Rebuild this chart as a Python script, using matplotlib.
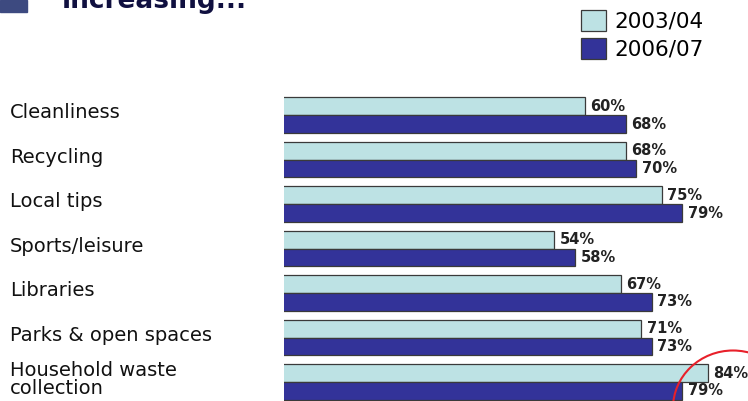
import numpy as np
import matplotlib
matplotlib.use("Agg")
import matplotlib.pyplot as plt
from matplotlib import patches, transforms

categories = ["Cleanliness", "Recycling", "Local tips", "Sports/leisure",
              "Libraries", "Parks & open spaces", "Household waste\ncollection"]
series_names = ["2003/04", "2006/07"]
vals_0304 = [60, 68, 75, 54, 67, 71, 84]
vals_0607 = [68, 70, 79, 58, 73, 73, 79]

light = "#BDE2E4"
dark = "#333399"
edge = "#3a3a3a"

plt.rcParams['font.family'] = ['DejaVu Sans']

W, H = 748, 401
fig = plt.figure(figsize=(W / 100, H / 100), dpi=100)
ax = fig.add_axes([284 / W, 0, 1 - 284 / W, 321 / H])

y = np.arange(len(categories))
h = 0.404
ax.barh(y - h / 2, vals_0304, height=h, color=light, edgecolor=edge, linewidth=0.9, label=series_names[0])
ax.barh(y + h / 2, vals_0607, height=h, color=dark, edgecolor=edge, linewidth=0.9, label=series_names[1])

ax.set_xlim(1.27, 91.8)
ax.set_ylim(len(categories) - 1 + 0.427, -0.787)
ax.axis('off')

# value labels
for i in range(len(categories)):
    ax.annotate(f"{vals_0304[i]}%", (vals_0304[i], y[i] - h / 2), xytext=(4, 0),
                textcoords='offset points', va='center', ha='left',
                fontsize=10.5, fontweight='bold', color='#222222')
    ax.annotate(f"{vals_0607[i]}%", (vals_0607[i], y[i] + h / 2), xytext=(4, 0),
                textcoords='offset points', va='center', ha='left',
                fontsize=10.5, fontweight='bold', color='#222222')

# category labels on the left
trans = transforms.blended_transform_factory(fig.transFigure, ax.transData)
for i, c in enumerate(categories):
    ax.text(10 / W, y[i] - 0.05, c, transform=trans, ha='left', va='center',
            fontsize=14, color='#111111', linespacing=0.95, clip_on=False)

# legend
leg = fig.legend(loc='upper left', bbox_to_anchor=(581 / W, 1 - 10 / H),
                 frameon=False, fontsize=15.5, handlelength=1.18, handleheight=1.09,
                 handletextpad=0.36, labelspacing=0.3, borderpad=0, borderaxespad=0)

# cut-off title and bullet at the top
fig.text(62 / W, 1 - 8 / H, "increasing...", fontsize=19, fontweight='bold',
         color='#101040', va='baseline', ha='left')
fig.add_artist(patches.Rectangle((0, 1 - 12 / H), 27 / W, 12 / H,
                                 transform=fig.transFigure, color='#3d4a80'))

# red circle annotation
fig.add_artist(patches.Ellipse((733 / W, 1 - 408 / H), 120 / W, 115 / H,
                               transform=fig.transFigure, fill=False,
                               edgecolor='#e8202a', linewidth=1.5))

fig.savefig("out.png", dpi=100)
